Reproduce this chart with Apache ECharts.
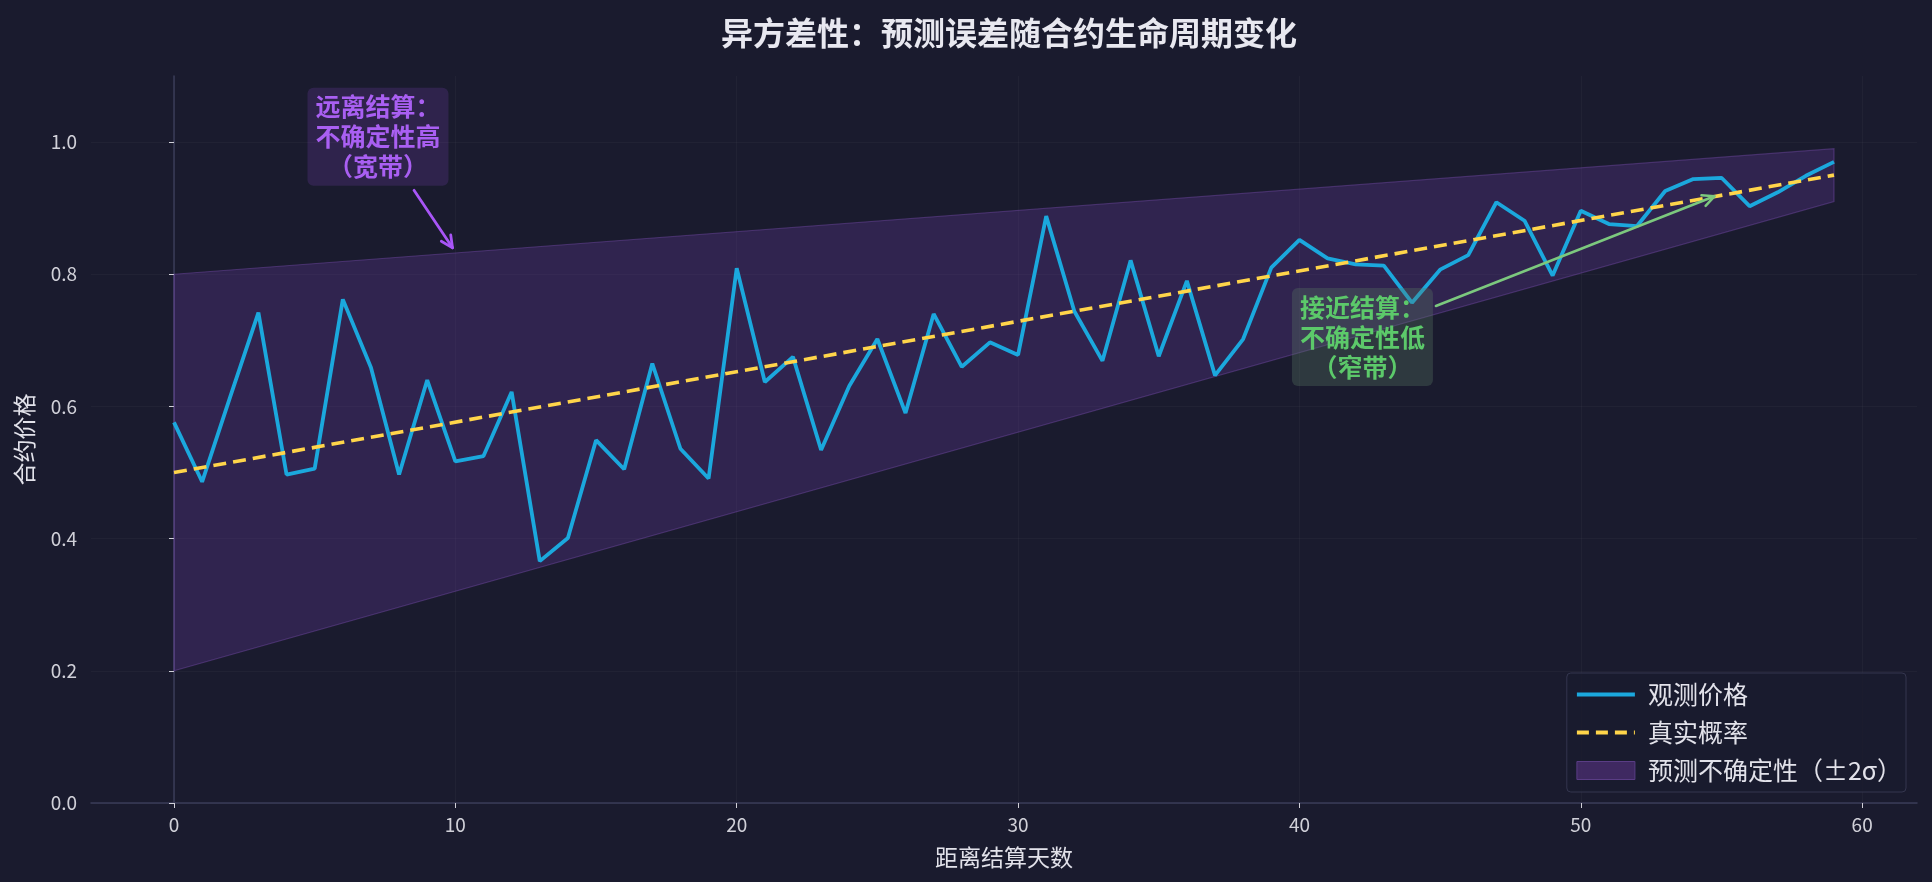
<!DOCTYPE html>
<html>
<head>
<meta charset="utf-8">
<script src="https://cdn.jsdelivr.net/npm/echarts@6/dist/echarts.min.js"></script>
<style>
html,body{margin:0;padding:0;background:#1a1b2e;}
#chart{width:1932px;height:882px;}
</style>
</head>
<body>
<div id="chart"></div>
<script>
// ---- data ----
const days = [0,1,2,3,4,5,6,7,8,9,10,11,12,13,14,15,16,17,18,19,20,21,22,23,24,25,26,27,28,29,30,31,32,33,34,35,36,37,38,39,40,41,42,43,44,45,46,47,48,49,50,51,52,53,54,55,56,57,58,59];
const observed = [0.576,0.486,0.615,0.742,0.497,0.506,0.762,0.659,0.497,0.640,
                  0.517,0.525,0.622,0.366,0.401,0.549,0.505,0.665,0.536,0.491,
                  0.809,0.637,0.675,0.534,0.631,0.702,0.590,0.740,0.660,0.697,
                  0.678,0.888,0.744,0.669,0.821,0.676,0.790,0.647,0.702,0.810,
                  0.852,0.824,0.815,0.813,0.757,0.807,0.829,0.909,0.881,0.798,
                  0.896,0.876,0.873,0.926,0.944,0.946,0.903,0.924,0.949,0.970];
const trueDays = [0, 59];
const trueProb = [0.50, 0.95];
const bandDays = [0, 59];
const bandUpper = [0.80, 0.99];
const bandLower = [0.20, 0.91];
const xTicks = [0,10,20,30,40,50,60];
const yTicks = [0,0.2,0.4,0.6,0.8,1.0];
const seriesNames = ['观测价格','真实概率','预测不确定性（±2σ）'];
const titleText = '异方差性：预测误差随合约生命周期变化';
const xName = '距离结算天数';
const yName = '合约价格';
const noteFar = ['远离结算：','不确定性高','（宽带）'];
const noteNear = ['接近结算：','不确定性低','（窄带）'];
// annotation anchor positions (data coords)
const noteFarPos = [7.25, 1.008];
const arrowFar = [[8.53, 0.927],[9.9, 0.84]];
const noteNearPos = [42.24, 0.705];
const arrowNear = [[44.85, 0.752],[54.75, 0.918]];

const FONT = '"Noto Sans CJK SC","Noto Sans",sans-serif';
const chart = echarts.init(document.getElementById('chart'), null, {renderer:'canvas'});

const obsData = days.map((d,i)=>[d, observed[i]]);
const trueData = trueDays.map((d,i)=>[d, trueProb[i]]);

const option = {
  backgroundColor: '#1a1b2e',
  animation: false,
  textStyle: {fontFamily: FONT},
  title: {
    text: titleText,
    left: 1004, top: 12, textAlign: 'center',
    textStyle: {color:'#e8e8f0', fontSize:32, fontWeight:'bold', fontFamily: FONT}
  },
  grid: {left:91, right:15, top:76, bottom:79, containLabel:false},
  legend: {
    orient:'vertical', right:26, bottom:90,
    padding:[8,4,8,8],
    backgroundColor:'rgba(26,27,46,0.85)',
    borderColor:'#34364f', borderWidth:1, borderRadius:4,
    itemWidth:58, itemHeight:18, itemGap:11,
    textStyle:{color:'#e2e2ea', fontSize:25, fontFamily:FONT, lineHeight:27, padding:[0,0,0,8]},
    data:[
      {name:seriesNames[0], itemStyle:{opacity:0}, lineStyle:{width:4.2, color:'#1ba8dd'}},
      {name:seriesNames[1], itemStyle:{opacity:0}, lineStyle:{width:4.2, color:'#ffd54a', type:[12,7]}},
      {name:seriesNames[2], icon:'rect', itemStyle:{color:'rgba(110,60,160,0.45)', borderColor:'#5a3d85', borderWidth:1}}
    ]
  },
  xAxis: {
    type:'value', min:-2.95, max:61.95,
    name:xName, nameLocation:'middle', nameGap:43,
    nameTextStyle:{color:'#e2e2ea', fontSize:23, fontFamily:FONT},
    axisLine:{show:true, lineStyle:{color:'#3a3c58', width:1.5}},
    axisTick:{show:true, length:5, lineStyle:{color:'#d0d0d8'}, customValues:xTicks},
    axisLabel:{color:'#d0d0d8', fontSize:19, margin:12, customValues:xTicks, formatter:v=>String(v)},
    splitLine:{show:true, lineStyle:{color:'rgba(255,255,255,0.03)'}}
  },
  yAxis: {
    type:'value', min:0, max:1.1,
    name:yName, nameLocation:'middle', nameGap:55,
    nameTextStyle:{color:'#e2e2ea', fontSize:23, fontFamily:FONT},
    axisLine:{show:true, lineStyle:{color:'#3a3c58', width:1.5}},
    axisTick:{show:true, length:5, lineStyle:{color:'#d0d0d8'}, customValues:yTicks},
    axisLabel:{color:'#d0d0d8', fontSize:19, margin:14, customValues:yTicks, formatter:v=>v.toFixed(1)},
    splitLine:{show:true, lineStyle:{color:'rgba(255,255,255,0.03)'}}
  },
  series: [
    {
      name: seriesNames[2],
      type:'custom',
      itemStyle:{color:'rgba(110,60,160,0.45)'},
      data:[0],
      z:1,
      renderItem:function(params, api){
        const pts = [];
        for (let i=0;i<bandDays.length;i++) pts.push(api.coord([bandDays[i], bandUpper[i]]));
        for (let i=bandDays.length-1;i>=0;i--) pts.push(api.coord([bandDays[i], bandLower[i]]));
        return {type:'polygon', shape:{points:pts},
          style:{fill:'rgba(108,60,165,0.28)', stroke:'rgba(140,90,200,0.35)', lineWidth:1.2}};
      }
    },
    {
      name: seriesNames[0], type:'line', data: obsData, symbol:'none', z:3,
      lineStyle:{color:'#1ba8dd', width:3.8}, itemStyle:{color:'#1ba8dd'}
    },
    {
      name: seriesNames[1], type:'line', data: trueData, symbol:'none', z:4,
      lineStyle:{color:'#ffd54a', width:3.6, type:[13,7]}, itemStyle:{color:'#ffd54a'}
    }
  ]
};
chart.setOption(option);

function arrowGraphic(from, to, color, width, headLen){
  const p0 = chart.convertToPixel({gridIndex:0}, from);
  const p1 = chart.convertToPixel({gridIndex:0}, to);
  const ang = Math.atan2(p1[1]-p0[1], p1[0]-p0[0]);
  const a1 = ang + Math.PI - 0.45, a2 = ang + Math.PI + 0.45;
  const h1 = [p1[0]+headLen*Math.cos(a1), p1[1]+headLen*Math.sin(a1)];
  const h2 = [p1[0]+headLen*Math.cos(a2), p1[1]+headLen*Math.sin(a2)];
  return [
    {type:'line', z:50, shape:{x1:p0[0],y1:p0[1],x2:p1[0],y2:p1[1]}, style:{stroke:color, lineWidth:width, lineCap:'round'}},
    {type:'polyline', z:50, shape:{points:[h1,p1,h2]}, style:{stroke:color, lineWidth:width, fill:null, lineCap:'round', lineJoin:'round'}}
  ];
}
function noteGraphic(pos, lines, color, bg){
  const p = chart.convertToPixel({gridIndex:0}, pos);
  return {
    type:'text', z:60, x:p[0], y:p[1],
    style:{
      text: lines.join('\n'),
      fill: color,
      font: 'bold 25px ' + FONT,
      align:'center', verticalAlign:'middle',
      lineHeight:30,
      backgroundColor:bg, padding:[4,8,4,8], borderRadius:6
    }
  };
}
const graphics = [].concat(
  arrowGraphic(arrowFar[0], arrowFar[1], '#a855f7', 2.8, 13),
  arrowGraphic(arrowNear[0], arrowNear[1], '#7cc87e', 2.5, 13),
  [noteGraphic(noteFarPos, noteFar, '#a95ff2', 'rgba(168,85,247,0.15)'),
   noteGraphic(noteNearPos, noteNear, '#5cc96a', 'rgba(90,120,100,0.32)')]
);
chart.setOption({graphic: graphics});
</script>
</body>
</html>
